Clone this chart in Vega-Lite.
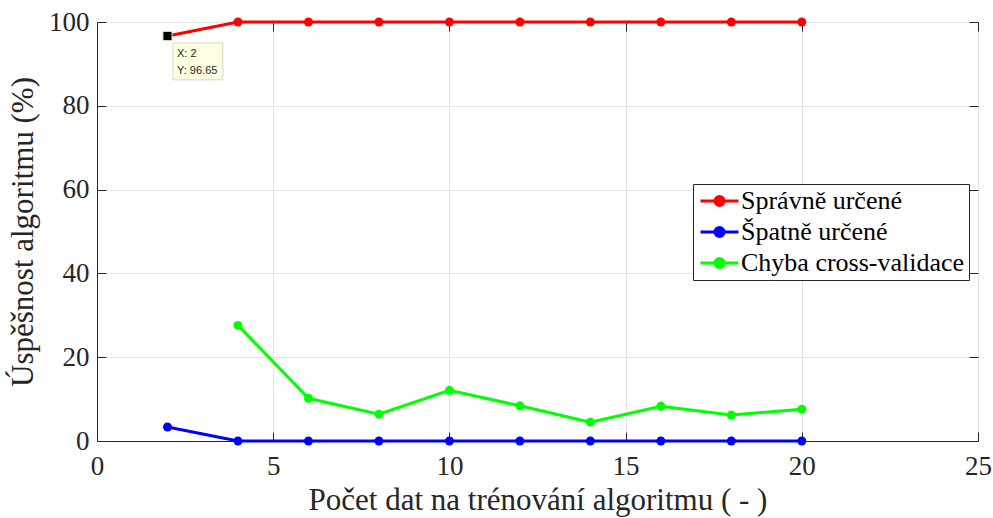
{
  "$schema": "https://vega.github.io/schema/vega-lite/v6.json",
  "autosize": "none",
  "width": 881,
  "height": 419,
  "padding": {"left": 97, "top": 22, "right": 15, "bottom": 77},
  "background": "white",
  "config": {
    "view": {"stroke": "#262626", "strokeWidth": 1},
    "axis": {
      "labelFont": "Liberation Serif",
      "labelFontSize": 27,
      "labelColor": "#262626",
      "labelFlush": false,
      "titleFont": "Liberation Serif",
      "titleFontSize": 31,
      "titleFontWeight": "normal",
      "titleColor": "#262626",
      "domainColor": "#262626",
      "tickColor": "#262626",
      "gridColor": "#e4e4e4",
      "gridOpacity": 1
    },
    "legend": {
      "labelFont": "Liberation Serif"
    }
  },
  "datasets": {
    "series": [
      {"x": 2, "value": 96.65, "series": "Správně určené"},
      {"x": 4, "value": 100, "series": "Správně určené"},
      {"x": 6, "value": 100, "series": "Správně určené"},
      {"x": 8, "value": 100, "series": "Správně určené"},
      {"x": 10, "value": 100, "series": "Správně určené"},
      {"x": 12, "value": 100, "series": "Správně určené"},
      {"x": 14, "value": 100, "series": "Správně určené"},
      {"x": 16, "value": 100, "series": "Správně určené"},
      {"x": 18, "value": 100, "series": "Správně určené"},
      {"x": 20, "value": 100, "series": "Správně určené"},
      {"x": 2, "value": 3.35, "series": "Špatně určené"},
      {"x": 4, "value": 0, "series": "Špatně určené"},
      {"x": 6, "value": 0, "series": "Špatně určené"},
      {"x": 8, "value": 0, "series": "Špatně určené"},
      {"x": 10, "value": 0, "series": "Špatně určené"},
      {"x": 12, "value": 0, "series": "Špatně určené"},
      {"x": 14, "value": 0, "series": "Špatně určené"},
      {"x": 16, "value": 0, "series": "Špatně určené"},
      {"x": 18, "value": 0, "series": "Špatně určené"},
      {"x": 20, "value": 0, "series": "Špatně určené"},
      {"x": 4, "value": 27.6, "series": "Chyba cross-validace"},
      {"x": 6, "value": 10.2, "series": "Chyba cross-validace"},
      {"x": 8, "value": 6.4, "series": "Chyba cross-validace"},
      {"x": 10, "value": 12.1, "series": "Chyba cross-validace"},
      {"x": 12, "value": 8.4, "series": "Chyba cross-validace"},
      {"x": 14, "value": 4.5, "series": "Chyba cross-validace"},
      {"x": 16, "value": 8.3, "series": "Chyba cross-validace"},
      {"x": 18, "value": 6.2, "series": "Chyba cross-validace"},
      {"x": 20, "value": 7.6, "series": "Chyba cross-validace"}
    ],
    "tip": [{"x": 2, "value": 96.65}],
    "tipbox": [{"x": 2.16, "x2": 3.57, "y": 95.0, "y2": 86.2}],
    "tiptext": [
      {"x": 2.27, "value": 92.3, "label": "X: 2"},
      {"x": 2.27, "value": 88.4, "label": "Y: 96.65"}
    ]
  },
  "resolve": {"axis": {"x": "independent", "y": "independent"}},
  "layer": [
    {
      "data": {"name": "series"},
      "mark": {"type": "line", "strokeWidth": 3},
      "encoding": {
        "x": {
          "field": "x", "type": "quantitative",
          "scale": {"domain": [0, 25], "nice": false},
          "axis": {"values": [0, 5, 10, 15, 20, 25], "title": "Počet dat na trénování algoritmu ( - )", "tickSize": -9, "labelPadding": 21, "titlePadding": 6, "grid": true}
        },
        "y": {
          "field": "value", "type": "quantitative",
          "scale": {"domain": [0, 100], "nice": false},
          "axis": {"values": [0, 20, 40, 60, 80, 100], "title": "Úspěšnost algoritmu (%)", "tickSize": -9, "labelPadding": 17, "titlePadding": 9, "grid": true}
        },
        "color": {
          "field": "series", "type": "nominal",
          "scale": {"domain": ["Správně určené", "Špatně určené", "Chyba cross-validace"], "range": ["#ff0000", "#0000ff", "#00ff00"]},
          "legend": {
            "title": null,
            "orient": "none",
            "legendX": 596,
            "legendY": 162,
            "labelFont": "Liberation Serif",
            "labelFontSize": 26,
            "labelColor": "#000000",
            "labelLimit": 600,
            "symbolType": "M-1,0L3,0M0.52,0A0.48,0.48 0 1,0 1.48,0A0.48,0.48 0 1,0 0.52,0Z",
            "symbolSize": 361,
            "symbolStrokeWidth": 3,
            "symbolOffset": 0,
            "labelOffset": 18,
            "rowPadding": 5,
            "padding": 4,
            "strokeColor": "#262626",
            "fillColor": "white"
          }
        }
      }
    },
    {
      "data": {"name": "series"},
      "mark": {"type": "point", "filled": true, "size": 80, "opacity": 1},
      "encoding": {
        "x": {"field": "x", "type": "quantitative", "axis": {"orient": "top", "values": [0, 5, 10, 15, 20, 25], "labels": false, "title": null, "tickSize": -9, "grid": false, "domain": false}},
        "y": {"field": "value", "type": "quantitative", "axis": {"orient": "right", "values": [0, 20, 40, 60, 80, 100], "labels": false, "title": null, "tickSize": -9, "grid": false, "domain": false}},
        "color": {"field": "series", "type": "nominal"}
      }
    },
    {
      "data": {"name": "tip"},
      "mark": {"type": "point", "shape": "square", "filled": true, "size": 81, "color": "#000000", "stroke": "#d8d8b0", "strokeWidth": 1, "opacity": 1},
      "encoding": {
        "x": {"field": "x", "type": "quantitative", "axis": null},
        "y": {"field": "value", "type": "quantitative", "axis": null}
      }
    },
    {
      "data": {"name": "tipbox"},
      "mark": {"type": "rect", "fill": "#ffffe1", "stroke": "#d6d6c6", "strokeWidth": 1},
      "encoding": {
        "x": {"field": "x", "type": "quantitative", "axis": null},
        "x2": {"field": "x2"},
        "y": {"field": "y", "type": "quantitative", "axis": null},
        "y2": {"field": "y2"}
      }
    },
    {
      "data": {"name": "tiptext"},
      "mark": {"type": "text", "align": "left", "baseline": "middle", "font": "Liberation Sans", "fontSize": 11, "color": "#262626"},
      "encoding": {
        "x": {"field": "x", "type": "quantitative", "axis": null},
        "y": {"field": "value", "type": "quantitative", "axis": null},
        "text": {"field": "label"}
      }
    }
  ]
}
